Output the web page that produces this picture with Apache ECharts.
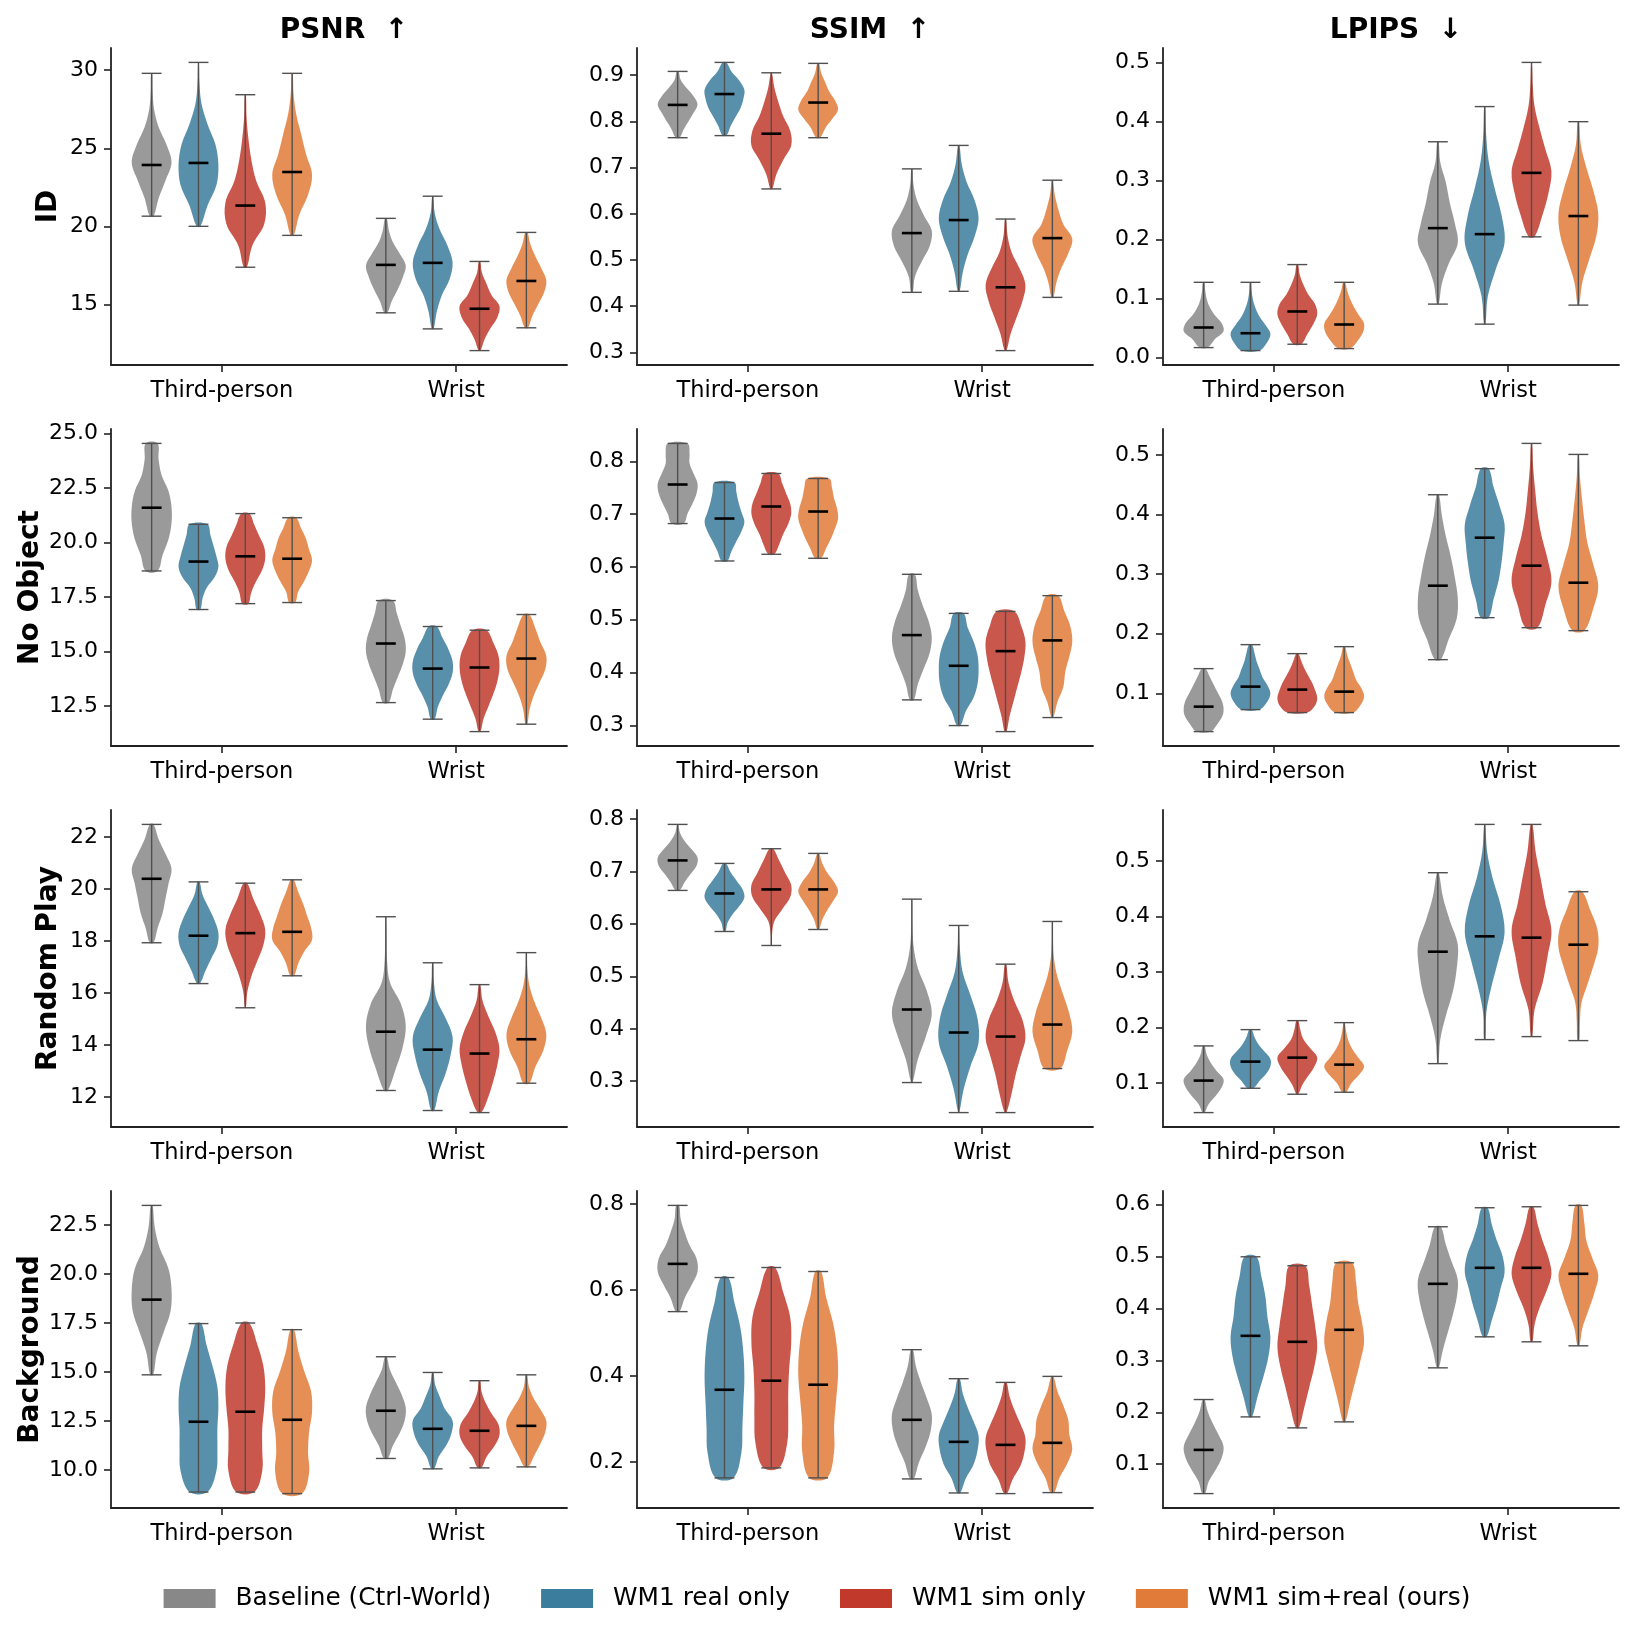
<!DOCTYPE html>
<html>
<head>
<meta charset="utf-8">
<script src="https://cdn.jsdelivr.net/npm/echarts@6/dist/echarts.min.js"></script>
<style>
  html, body { margin: 0; background: #fff; }
  #chart { width: 1634px; height: 1636px; }
</style>
</head>
<body>
<div id="chart"></div>
<script>
const metrics = ['PSNR  ↑', 'SSIM  ↑', 'LPIPS  ↓']
const scenarios = ['ID', 'No Object', 'Random Play', 'Background']
const views = ['Third-person', 'Wrist']
const methods = ['Baseline (Ctrl-World)', 'WM1 real only', 'WM1 sim only', 'WM1 sim+real (ours)']
const colors = ['#888888', '#3b7d9c', '#c0392b', '#e07b39']

// one violin = [min, max, median, relative widths from min up to max]
// order: Third-person (4 methods), then Wrist (4 methods)
const psnrId = [
  [20.65, 29.8, 23.93, [0.1, 0.35, 0.7, 1.0, 0.75, 0.35, 0.12, 0.05, 0.03]],
  [20.0, 30.5, 24.06, [0.1, 0.45, 0.9, 1.0, 0.85, 0.45, 0.15, 0.05, 0.02]],
  [17.38, 28.43, 21.33, [0.08, 0.35, 0.95, 1.0, 0.55, 0.3, 0.15, 0.06, 0.03]],
  [19.42, 29.8, 23.48, [0.08, 0.35, 0.8, 1.0, 0.7, 0.45, 0.2, 0.07, 0.03]],
  [14.46, 20.51, 17.53, [0.08, 0.3, 0.6, 0.85, 1.0, 0.7, 0.35, 0.15, 0.05]],
  [13.43, 21.93, 17.66, [0.05, 0.2, 0.45, 0.85, 1.0, 0.75, 0.35, 0.1, 0.03]],
  [12.04, 17.75, 14.72, [0.05, 0.25, 0.55, 0.9, 1.0, 0.6, 0.35, 0.12, 0.04]],
  [13.5, 19.61, 16.5, [0.08, 0.3, 0.6, 0.9, 1.0, 0.75, 0.45, 0.2, 0.06]],
]
const ssimId = [
  [0.7645, 0.908, 0.8355, [0.1, 0.3, 0.55, 0.8, 1.0, 0.8, 0.45, 0.15, 0.05]],
  [0.769, 0.9275, 0.859, [0.1, 0.3, 0.55, 0.8, 0.95, 1.0, 0.75, 0.35, 0.1]],
  [0.6536, 0.905, 0.7732, [0.05, 0.25, 0.6, 1.0, 0.95, 0.6, 0.35, 0.15, 0.03]],
  [0.7645, 0.9254, 0.8406, [0.1, 0.35, 0.7, 1.0, 0.85, 0.55, 0.35, 0.15, 0.05]],
  [0.4297, 0.697, 0.558, [0.05, 0.15, 0.5, 0.9, 1.0, 0.6, 0.25, 0.08, 0.03]],
  [0.4319, 0.7478, 0.5862, [0.05, 0.2, 0.45, 0.8, 1.0, 0.8, 0.4, 0.15, 0.04]],
  [0.3036, 0.5884, 0.4406, [0.05, 0.25, 0.55, 0.85, 1.0, 0.7, 0.3, 0.1, 0.03]],
  [0.4188, 0.6725, 0.5471, [0.05, 0.2, 0.45, 0.8, 1.0, 0.55, 0.3, 0.12, 0.03]],
]
const lpipsId = [
  [0.0165, 0.1273, 0.0506, [0.2, 0.55, 1.0, 0.9, 0.55, 0.3, 0.15, 0.08, 0.04]],
  [0.0114, 0.1273, 0.0409, [0.45, 0.85, 1.0, 0.75, 0.45, 0.25, 0.12, 0.06, 0.03]],
  [0.0222, 0.1574, 0.0778, [0.2, 0.5, 0.8, 1.0, 0.9, 0.55, 0.3, 0.12, 0.04]],
  [0.0148, 0.1273, 0.0557, [0.3, 0.7, 0.95, 1.0, 0.75, 0.5, 0.3, 0.15, 0.05]],
  [0.0903, 0.3659, 0.2193, [0.05, 0.2, 0.55, 1.0, 0.85, 0.6, 0.4, 0.12, 0.04]],
  [0.0563, 0.4256, 0.2091, [0.04, 0.15, 0.55, 1.0, 0.85, 0.5, 0.2, 0.07, 0.03]],
  [0.2045, 0.5006, 0.3131, [0.15, 0.55, 0.85, 1.0, 0.7, 0.4, 0.15, 0.06, 0.02]],
  [0.0886, 0.4, 0.2398, [0.04, 0.2, 0.55, 0.9, 1.0, 0.75, 0.4, 0.12, 0.04]],
]
const psnrNoObj = [
  [18.69, 24.54, 21.59, [0.3, 0.55, 0.85, 1.0, 1.0, 0.85, 0.5, 0.35, 0.3]],
  [16.92, 20.83, 19.12, [0.1, 0.2, 0.4, 0.8, 1.0, 0.9, 0.75, 0.6, 0.45]],
  [17.19, 21.32, 19.36, [0.15, 0.3, 0.55, 0.85, 1.0, 0.95, 0.7, 0.45, 0.2]],
  [17.24, 21.13, 19.25, [0.15, 0.3, 0.6, 0.85, 1.0, 0.85, 0.7, 0.45, 0.2]],
  [12.65, 17.33, 15.36, [0.15, 0.35, 0.6, 0.85, 1.0, 0.95, 0.75, 0.55, 0.35]],
  [11.89, 16.14, 14.21, [0.1, 0.25, 0.5, 0.8, 1.0, 1.0, 0.8, 0.5, 0.2]],
  [11.32, 15.97, 14.26, [0.05, 0.2, 0.45, 0.7, 0.9, 1.0, 0.95, 0.7, 0.35]],
  [11.66, 16.69, 14.67, [0.05, 0.15, 0.35, 0.65, 0.95, 1.0, 0.7, 0.45, 0.15]],
]
const ssimNoObj = [
  [0.6823, 0.8342, 0.7563, [0.3, 0.5, 0.75, 0.95, 1.0, 0.8, 0.6, 0.6, 0.5]],
  [0.6114, 0.7601, 0.6918, [0.15, 0.35, 0.6, 0.85, 1.0, 0.85, 0.7, 0.6, 0.5]],
  [0.6241, 0.7772, 0.7146, [0.15, 0.4, 0.6, 0.85, 1.0, 0.95, 0.75, 0.55, 0.35]],
  [0.6165, 0.7677, 0.7051, [0.15, 0.4, 0.65, 0.85, 1.0, 0.95, 0.8, 0.7, 0.55]],
  [0.3481, 0.5861, 0.4709, [0.1, 0.3, 0.6, 0.9, 1.0, 0.85, 0.55, 0.3, 0.15]],
  [0.2994, 0.512, 0.4127, [0.1, 0.35, 0.75, 0.95, 1.0, 0.95, 0.75, 0.45, 0.25]],
  [0.288, 0.5158, 0.4405, [0.05, 0.2, 0.4, 0.6, 0.8, 0.95, 1.0, 0.8, 0.45]],
  [0.3146, 0.5456, 0.4608, [0.05, 0.25, 0.55, 0.65, 0.85, 1.0, 0.9, 0.6, 0.3]],
]
const lpipsNoObj = [
  [0.0357, 0.1414, 0.0776, [0.35, 0.7, 0.95, 1.0, 0.9, 0.7, 0.5, 0.3, 0.1]],
  [0.0726, 0.1817, 0.1112, [0.45, 0.85, 1.0, 0.85, 0.6, 0.45, 0.3, 0.2, 0.08]],
  [0.0676, 0.1666, 0.1062, [0.5, 0.9, 1.0, 0.9, 0.75, 0.55, 0.35, 0.2, 0.06]],
  [0.0676, 0.1783, 0.1028, [0.45, 0.85, 1.0, 0.85, 0.6, 0.45, 0.3, 0.15, 0.05]],
  [0.1565, 0.4334, 0.2807, [0.15, 0.55, 0.95, 1.0, 0.85, 0.65, 0.4, 0.2, 0.06]],
  [0.227, 0.4771, 0.3613, [0.2, 0.45, 0.7, 0.85, 0.95, 1.0, 0.75, 0.45, 0.2]],
  [0.2102, 0.5196, 0.3143, [0.3, 0.7, 1.0, 0.8, 0.5, 0.3, 0.18, 0.08, 0.03]],
  [0.2052, 0.5011, 0.2857, [0.3, 0.75, 1.0, 0.75, 0.45, 0.3, 0.18, 0.08, 0.03]],
]
const psnrRandom = [
  [17.94, 22.49, 20.4, [0.1, 0.3, 0.55, 0.7, 0.85, 1.0, 0.7, 0.35, 0.1]],
  [16.37, 20.28, 18.21, [0.08, 0.35, 0.65, 0.95, 1.0, 0.8, 0.5, 0.2, 0.06]],
  [15.44, 20.23, 18.31, [0.03, 0.1, 0.3, 0.6, 0.9, 1.0, 0.75, 0.4, 0.1]],
  [16.67, 20.36, 18.36, [0.1, 0.3, 0.6, 1.0, 0.95, 0.75, 0.55, 0.3, 0.08]],
  [12.26, 18.94, 14.52, [0.1, 0.5, 0.85, 1.0, 0.75, 0.2, 0.06, 0.04, 0.02]],
  [11.49, 17.17, 13.83, [0.08, 0.3, 0.65, 0.9, 1.0, 0.65, 0.2, 0.06, 0.03]],
  [11.41, 16.33, 13.68, [0.1, 0.45, 0.7, 0.9, 1.0, 0.8, 0.45, 0.15, 0.04]],
  [12.54, 17.56, 14.23, [0.15, 0.45, 0.85, 1.0, 0.75, 0.4, 0.15, 0.05, 0.02]],
]
const ssimRandom = [
  [0.6639, 0.7898, 0.7211, [0.1, 0.35, 0.65, 0.95, 1.0, 0.7, 0.35, 0.12, 0.03]],
  [0.5856, 0.7154, 0.6581, [0.05, 0.15, 0.4, 0.75, 1.0, 0.9, 0.6, 0.3, 0.08]],
  [0.5589, 0.7434, 0.6658, [0.02, 0.04, 0.15, 0.55, 0.95, 1.0, 0.7, 0.4, 0.1]],
  [0.5894, 0.7345, 0.6658, [0.05, 0.2, 0.45, 0.75, 1.0, 0.8, 0.45, 0.2, 0.05]],
  [0.2975, 0.6473, 0.4368, [0.04, 0.3, 0.7, 1.0, 0.75, 0.3, 0.08, 0.03, 0.02]],
  [0.2402, 0.5971, 0.3929, [0.03, 0.25, 0.6, 1.0, 0.95, 0.6, 0.2, 0.06, 0.02]],
  [0.2402, 0.5233, 0.3852, [0.05, 0.3, 0.5, 0.75, 1.0, 0.85, 0.45, 0.15, 0.04]],
  [0.3242, 0.6047, 0.4081, [0.4, 0.75, 1.0, 0.85, 0.55, 0.25, 0.08, 0.03, 0.02]],
]
const lpipsRandom = [
  [0.0465, 0.1667, 0.1042, [0.05, 0.25, 0.6, 0.9, 1.0, 0.65, 0.35, 0.15, 0.05]],
  [0.0904, 0.1961, 0.1384, [0.15, 0.45, 0.8, 1.0, 1.0, 0.7, 0.4, 0.2, 0.06]],
  [0.0796, 0.2123, 0.1456, [0.05, 0.25, 0.55, 0.85, 1.0, 0.65, 0.3, 0.15, 0.05]],
  [0.0832, 0.2087, 0.133, [0.1, 0.35, 0.75, 1.0, 0.7, 0.4, 0.2, 0.1, 0.03]],
  [0.1348, 0.479, 0.3366, [0.03, 0.12, 0.4, 0.75, 0.95, 1.0, 0.6, 0.25, 0.05]],
  [0.1781, 0.5661, 0.3643, [0.04, 0.08, 0.35, 0.7, 1.0, 0.8, 0.4, 0.12, 0.03]],
  [0.1835, 0.5661, 0.3619, [0.04, 0.15, 0.55, 0.8, 1.0, 0.7, 0.45, 0.2, 0.05]],
  [0.1763, 0.4447, 0.3492, [0.05, 0.08, 0.15, 0.45, 0.75, 1.0, 0.95, 0.6, 0.2]],
]
const psnrBg = [
  [14.86, 23.49, 18.69, [0.08, 0.25, 0.6, 0.95, 1.0, 0.85, 0.4, 0.15, 0.05]],
  [8.89, 17.47, 12.47, [0.45, 0.9, 0.95, 0.95, 1.0, 0.95, 0.7, 0.4, 0.15]],
  [8.89, 17.5, 12.98, [0.45, 0.85, 0.85, 0.85, 0.95, 1.0, 0.9, 0.6, 0.2]],
  [8.81, 17.16, 12.57, [0.5, 0.85, 0.8, 0.85, 1.0, 0.95, 0.6, 0.3, 0.1]],
  [10.6, 15.78, 13.03, [0.1, 0.35, 0.7, 0.95, 1.0, 0.8, 0.5, 0.2, 0.05]],
  [10.07, 14.98, 12.11, [0.08, 0.3, 0.7, 0.95, 1.0, 0.6, 0.35, 0.12, 0.04]],
  [10.12, 14.56, 12.01, [0.1, 0.35, 0.75, 1.0, 0.95, 0.6, 0.3, 0.1, 0.04]],
  [10.17, 14.86, 12.26, [0.1, 0.4, 0.7, 0.95, 1.0, 0.7, 0.35, 0.12, 0.04]],
]
const ssimBg = [
  [0.55, 0.7969, 0.661, [0.1, 0.35, 0.7, 1.0, 0.95, 0.6, 0.35, 0.15, 0.08]],
  [0.1634, 0.6292, 0.3683, [0.45, 0.85, 0.9, 0.95, 1.0, 0.95, 0.8, 0.5, 0.2]],
  [0.1867, 0.6525, 0.3893, [0.4, 0.8, 0.85, 0.85, 0.9, 1.0, 0.95, 0.6, 0.2]],
  [0.1634, 0.6432, 0.38, [0.45, 0.8, 0.8, 0.9, 1.0, 0.95, 0.75, 0.4, 0.15]],
  [0.161, 0.4615, 0.2984, [0.1, 0.35, 0.7, 0.95, 1.0, 0.75, 0.45, 0.2, 0.06]],
  [0.1284, 0.394, 0.2472, [0.08, 0.35, 0.75, 0.95, 1.0, 0.75, 0.45, 0.2, 0.06]],
  [0.1269, 0.3854, 0.2402, [0.08, 0.35, 0.75, 0.95, 1.0, 0.75, 0.45, 0.2, 0.06]],
  [0.1292, 0.3994, 0.2449, [0.1, 0.35, 0.75, 1.0, 0.85, 0.8, 0.55, 0.25, 0.06]],
]
const lpipsBg = [
  [0.0435, 0.2245, 0.1276, [0.08, 0.25, 0.6, 0.9, 1.0, 0.75, 0.45, 0.2, 0.05]],
  [0.1911, 0.4992, 0.3471, [0.08, 0.35, 0.65, 0.9, 1.0, 0.85, 0.75, 0.55, 0.3]],
  [0.17, 0.4819, 0.3356, [0.08, 0.35, 0.6, 0.85, 1.0, 0.9, 0.75, 0.6, 0.4]],
  [0.1815, 0.4877, 0.3587, [0.06, 0.3, 0.55, 0.8, 1.0, 0.9, 0.7, 0.6, 0.4]],
  [0.2855, 0.557, 0.4472, [0.05, 0.25, 0.5, 0.75, 0.95, 1.0, 0.7, 0.4, 0.15]],
  [0.3452, 0.5936, 0.478, [0.1, 0.35, 0.6, 0.8, 1.0, 0.9, 0.6, 0.35, 0.15]],
  [0.3356, 0.5955, 0.478, [0.05, 0.15, 0.4, 0.75, 1.0, 0.85, 0.55, 0.3, 0.1]],
  [0.3279, 0.5981, 0.4665, [0.05, 0.2, 0.5, 0.8, 1.0, 0.7, 0.4, 0.3, 0.15]],
]

// tick labels of each panel, row by row
const yTicks = [
  ['15', '20', '25', '30'],
  ['0.3', '0.4', '0.5', '0.6', '0.7', '0.8', '0.9'],
  ['0.0', '0.1', '0.2', '0.3', '0.4', '0.5'],
  ['12.5', '15.0', '17.5', '20.0', '22.5', '25.0'],
  ['0.3', '0.4', '0.5', '0.6', '0.7', '0.8'],
  ['0.1', '0.2', '0.3', '0.4', '0.5'],
  ['12', '14', '16', '18', '20', '22'],
  ['0.3', '0.4', '0.5', '0.6', '0.7', '0.8'],
  ['0.1', '0.2', '0.3', '0.4', '0.5'],
  ['10.0', '12.5', '15.0', '17.5', '20.0', '22.5'],
  ['0.2', '0.4', '0.6', '0.8'],
  ['0.1', '0.2', '0.3', '0.4', '0.5', '0.6'],
]

const panels = [
  psnrId, ssimId, lpipsId,
  psnrNoObj, ssimNoObj, lpipsNoObj,
  psnrRandom, ssimRandom, lpipsRandom,
  psnrBg, ssimBg, lpipsBg,
]

const font = 'DejaVu Sans'
const violinWidth = 0.17
const offsets = [-0.3, -0.1, 0.1, 0.3]
const colLeft = [111, 637, 1163]
const rowTop = [48, 429, 810, 1191]
const plotW = 456
const plotH = 317
const nameGaps = [48, 66, 48, 63]

const xPad = (1 + 2 * 0.3 + violinWidth) * 0.05
const xMin = -0.3 - violinWidth / 2 - xPad
const xMax = 1.3 + violinWidth / 2 + xPad

function renderViolin(params, api) {
  const x = api.value(0)
  const lo = api.value(1)
  const hi = api.value(2)
  const med = api.value(3)
  const n = 9
  const half = api.size([violinWidth / 2, 0])[0]
  const cap = api.size([violinWidth / 4, 0])[0]
  const cx = api.coord([x, lo])[0]
  const right = []
  const left = []
  for (let i = 0; i < n; i++) {
    const py = api.coord([x, lo + (hi - lo) * i / (n - 1)])[1]
    const w = api.value(4 + i) * half
    right.push([cx + w, py])
    left.unshift([cx - w, py])
  }
  const yLo = api.coord([x, lo])[1]
  const yHi = api.coord([x, hi])[1]
  const yMed = api.coord([x, med])[1]
  const lineStyle = { stroke: '#505050', lineWidth: 1.4 }
  return {
    type: 'group',
    children: [
      {
        type: 'polygon',
        shape: { points: right.concat(left), smooth: 0.35 },
        style: { fill: api.visual('color'), opacity: 0.85 },
      },
      { type: 'line', shape: { x1: cx, y1: yLo, x2: cx, y2: yHi }, style: lineStyle },
      { type: 'line', shape: { x1: cx - cap, y1: yLo, x2: cx + cap, y2: yLo }, style: lineStyle },
      { type: 'line', shape: { x1: cx - cap, y1: yHi, x2: cx + cap, y2: yHi }, style: lineStyle },
      { type: 'line', shape: { x1: cx - cap, y1: yMed, x2: cx + cap, y2: yMed }, style: { stroke: '#000', lineWidth: 2.6 } },
    ],
  }
}

const grid = []
const xAxis = []
const yAxis = []
const series = []

panels.forEach((violins, p) => {
  const r = Math.floor(p / 3)
  const c = p % 3
  grid.push({ left: colLeft[c], top: rowTop[r], width: plotW, height: plotH })

  const lo = Math.min(...violins.map(v => v[0]))
  const hi = Math.max(...violins.map(v => v[1]))
  const pad = (hi - lo) * 0.05
  const ticks = yTicks[p]

  xAxis.push({
    type: 'value',
    gridIndex: p,
    min: xMin,
    max: xMax,
    splitLine: { show: false },
    axisLine: { onZero: false, lineStyle: { color: '#222', width: 1.8 } },
    axisTick: { length: 7, lineStyle: { color: '#222', width: 1.6 }, customValues: [0, 1] },
    axisLabel: {
      customValues: [0, 1],
      formatter: v => views[Math.round(v)],
      fontFamily: font,
      fontSize: 22.5,
      color: '#000',
      margin: 15,
    },
  })

  yAxis.push({
    type: 'value',
    gridIndex: p,
    min: lo - pad,
    max: hi + pad,
    splitLine: { show: false },
    axisLine: { show: true, onZero: false, lineStyle: { color: '#222', width: 1.8 } },
    axisTick: { show: true, length: 7, lineStyle: { color: '#222', width: 1.6 }, customValues: ticks.map(Number) },
    axisLabel: {
      customValues: ticks.map(Number),
      formatter: v => ticks.find(t => Math.abs(Number(t) - v) < 1e-9) || '',
      fontFamily: font,
      fontSize: 22,
      color: '#000',
      margin: 13,
    },
    name: c === 0 ? scenarios[r] : '',
    nameLocation: 'middle',
    nameRotate: 90,
    nameGap: nameGaps[r],
    nameTextStyle: { fontFamily: font, fontSize: 28, fontWeight: 'bold', color: '#000' },
  })

  methods.forEach((name, m) => {
    series.push({
      type: 'custom',
      name: name,
      xAxisIndex: p,
      yAxisIndex: p,
      color: colors[m],
      itemStyle: { color: colors[m] },
      renderItem: renderViolin,
      silent: true,
      data: [0, 1].map(k => {
        const v = violins[k * 4 + m]
        return [k + offsets[m], v[0], v[1], v[2], ...v[3]]
      }),
    })
  })
})

const chart = echarts.init(document.getElementById('chart'), null, { renderer: 'canvas' })
chart.setOption({
  animation: false,
  backgroundColor: '#fff',
  title: metrics.map((t, c) => ({
    text: t,
    left: colLeft[c] + plotW / 2,
    top: 12,
    textAlign: 'center',
    textStyle: { fontFamily: font, fontSize: 28, fontWeight: 'bold', color: '#000' },
  })),
  legend: {
    data: methods,
    left: 'center',
    top: 1586,
    padding: 0,
    itemWidth: 52,
    itemHeight: 19,
    itemGap: 50,
    icon: 'rect',
    textStyle: { fontFamily: font, fontSize: 24.8, color: '#000', padding: [0, 0, 0, 15] },
  },
  grid,
  xAxis,
  yAxis,
  series,
})
</script>
</body>
</html>
